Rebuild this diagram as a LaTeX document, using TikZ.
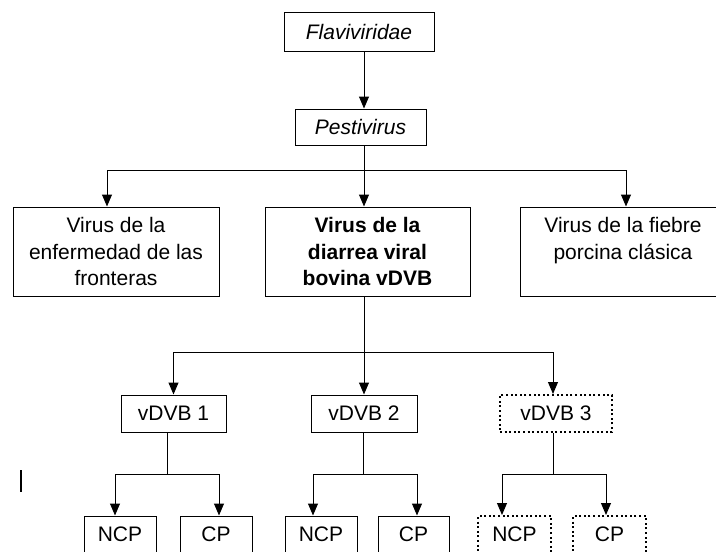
\documentclass[tikz,border=0pt]{standalone}
\usepackage{fontspec}
\setmainfont{Liberation Sans}
\usetikzlibrary{arrows.meta}

\begin{document}
\begin{tikzpicture}[x=1pt,y=-1pt,
  box/.style={draw,line width=1pt,inner sep=0pt,align=center,font=\fontsize{21}{26.5}\selectfont},
  dotbox/.style={box,line width=2pt,dash pattern=on 2pt off 2.6pt},
  link/.style={line width=1pt},
  arr/.style={line width=1pt,-{Triangle[width=10pt,length=12pt]}}]
\useasboundingbox (0,0) rectangle (716,552);
% family and genus
\node[box,minimum width=150pt,minimum height=39pt] (fla) at (359,31.5) {\itshape Flaviviridae};
\node[box,minimum width=131pt,minimum height=36pt] (pes) at (360.5,127) {\itshape Pestivirus};
% species
\node[box,minimum width=206pt,minimum height=89pt] (bdv) at (116,251.5) {Virus de la\\enfermedad de las\\fronteras};
\node[box,minimum width=205pt,minimum height=89pt] (dvb) at (367.5,251.5) {\bfseries Virus de la\\\bfseries diarrea viral\\\bfseries bovina vDVB};
\node[box,minimum width=206pt,minimum height=89pt] (fpc) at (623,251.5) {Virus de la fiebre\\porcina clásica\\\mbox{}};
% genotypes
\node[box,minimum width=105pt,minimum height=37pt] (v1) at (173.5,413.5) {vDVB 1};
\node[box,minimum width=106pt,minimum height=37pt] (v2) at (364,413.5) {vDVB 2};
\node[dotbox,minimum width=112pt,minimum height=37pt] (v3) at (556,413.5) {vDVB 3};
% biotypes
\node[box,minimum width=72pt,minimum height=37pt] (ncp1) at (120,534.5) {NCP};
\node[box,minimum width=72pt,minimum height=37pt] (cp1) at (216,534.5) {CP};
\node[box,minimum width=72pt,minimum height=37pt] (ncp2) at (321,534.5) {NCP};
\node[box,minimum width=71pt,minimum height=37pt] (cp2) at (413.5,534.5) {CP};
\node[dotbox,minimum width=73pt,minimum height=37pt] (ncp3) at (514.5,534.5) {NCP};
\node[dotbox,minimum width=73pt,minimum height=37pt] (cp3) at (609.5,534.5) {CP};
% junctions
\coordinate (trunk) at (364,170);
\coordinate (hub) at (364,352);
\coordinate (j1) at (167,474);
\coordinate (j2) at (363,474);
\coordinate (j3) at (553,474);
% connectors
\draw[arr] (fla.south -| trunk) -- (pes.north -| trunk);
\draw[link] (pes.south -| trunk) -- (trunk);
\draw[arr] (trunk) -| ([xshift=-9pt]bdv.north);
\draw[arr] (trunk) -- (dvb.north -| trunk);
\draw[arr] (trunk) -| ([xshift=3pt]fpc.north);
\draw[link] (dvb.south -| hub) -- (hub);
\draw[arr] (hub) -| (v1.north);
\draw[arr] (hub) -- (v2.north -| hub);
\draw[arr] (hub) -| ([xshift=-3pt]v3.north);
\draw[link] (v1.south -| j1) -- (j1);
\draw[arr] (j1) -| ([xshift=-5pt]ncp1.north);
\draw[arr] (j1) -| ([xshift=3pt]cp1.north);
\draw[link] (v2.south -| j2) -- (j2);
\draw[arr] (j2) -| ([xshift=-8pt]ncp2.north);
\draw[arr] (j2) -| ([xshift=3.5pt]cp2.north);
\draw[link] (v3.south -| j3) -- (j3);
\draw[arr] (j3) -| ([xshift=-12.5pt]ncp3.north);
\draw[arr] (j3) -| ([xshift=-3.5pt]cp3.north);
% stray mark at the left
\draw[line width=2.8pt] (21,470) -- (21,492);
\end{tikzpicture}
\end{document}
